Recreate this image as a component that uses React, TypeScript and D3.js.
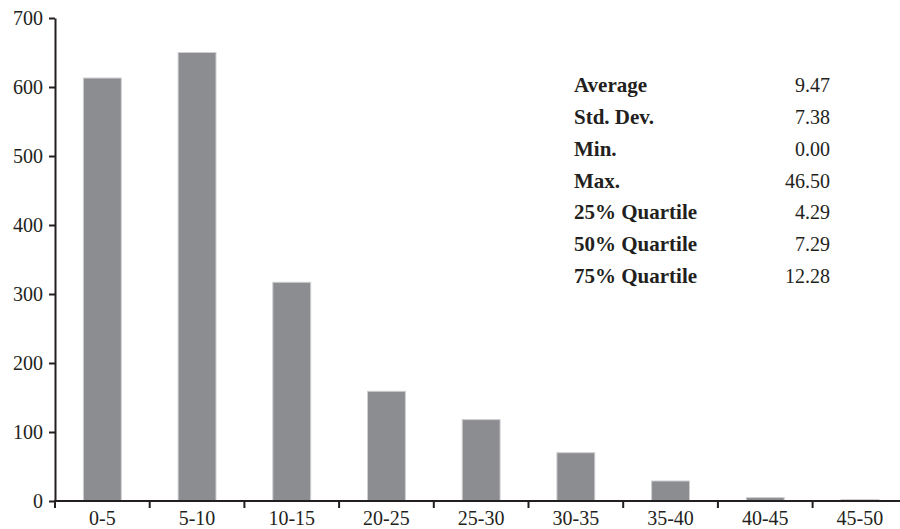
import React, { useEffect, useRef } from "react";
import * as d3 from "d3";

const bins = ["0-5", "5-10", "10-15", "20-25", "25-30", "30-35", "35-40", "40-45", "45-50"];
const counts = [613, 650, 317, 159, 118, 70, 29, 5, 2];
const yTicks = [0, 100, 200, 300, 400, 500, 600, 700];

const statNames = ["Average", "Std. Dev.", "Min.", "Max.", "25% Quartile", "50% Quartile", "75% Quartile"];
const statValues = ["9.47", "7.38", "0.00", "46.50", "4.29", "7.29", "12.28"];

const WIDTH = 900;
const HEIGHT = 529;
const FONT = "Liberation Serif, Times New Roman, serif";
const INK = "#231f20";

const App = () => {
  const svgRef = useRef<SVGSVGElement>(null);

  useEffect(() => {
    if (!svgRef.current) return;
    const svg = d3.select(svgRef.current);
    svg.selectAll("*").remove();

    const left = 55;
    const bottom = 501;
    const top = 18;

    const x = d3.scaleBand<string>().domain(bins).range([left, left + 94.7 * bins.length]).paddingInner(0.6).paddingOuter(0.3);
    const y = d3.scaleLinear().domain([0, 700]).range([bottom, top]);

    // bars
    svg.append("g")
      .selectAll("rect")
      .data(bins)
      .join("rect")
        .attr("x", d => x(d)!)
        .attr("width", x.bandwidth())
        .attr("y", (d, i) => y(counts[i]))
        .attr("height", (d, i) => bottom - y(counts[i]))
        .attr("fill", "#8c8d91")
        .attr("stroke", "#cfcfd1")
        .attr("stroke-width", 1);

    // y axis
    const yAxis = svg.append("g")
      .attr("transform", `translate(${left},0)`)
      .call(d3.axisLeft(y).tickValues(yTicks).tickSize(6).tickPadding(6).tickSizeOuter(0));
    yAxis.select(".domain").attr("stroke", INK).attr("stroke-width", 2);
    yAxis.selectAll(".tick line").attr("stroke", INK).attr("stroke-width", 2);
    yAxis.selectAll(".tick text")
      .attr("fill", INK)
      .attr("font-family", FONT)
      .attr("font-size", 20);

    // x axis: ticks at band edges
    const bandEdge = (i: number) => x.range()[0] + i * x.step();
    const xg = svg.append("g");
    xg.append("line")
      .attr("x1", left - 1).attr("x2", WIDTH)
      .attr("y1", bottom).attr("y2", bottom)
      .attr("stroke", INK).attr("stroke-width", 2);
    xg.selectAll("line.tick")
      .data(d3.range(bins.length))
      .join("line")
        .attr("class", "tick")
        .attr("x1", i => bandEdge(i)).attr("x2", i => bandEdge(i))
        .attr("y1", bottom).attr("y2", bottom + 7)
        .attr("stroke", INK).attr("stroke-width", 2);
    xg.selectAll("text")
      .data(bins)
      .join("text")
        .attr("x", d => x(d)! + x.bandwidth() / 2)
        .attr("y", 525)
        .attr("text-anchor", "middle")
        .attr("fill", INK)
        .attr("font-family", FONT)
        .attr("font-size", 20)
        .text(d => d);

    // stats table
    const rowY = d3.scalePoint<string>().domain(statNames).range([92, 283]);
    const stats = svg.append("g")
      .attr("fill", INK)
      .attr("font-family", FONT)
      .attr("font-size", 20);
    stats.selectAll("text.name")
      .data(statNames)
      .join("text")
        .attr("class", "name")
        .attr("x", 574)
        .attr("y", d => rowY(d)!)
        .attr("font-weight", "bold")
        .attr("font-size", 21)
        .text(d => d);
    stats.selectAll("text.value")
      .data(statNames)
      .join("text")
        .attr("class", "value")
        .attr("x", 830)
        .attr("y", d => rowY(d)!)
        .attr("text-anchor", "end")
        .text((d, i) => statValues[i]);
  }, []);

  return (
    <svg
      ref={svgRef}
      width={WIDTH}
      height={HEIGHT}
      style={{ position: "absolute", left: 0, top: 0, background: "#fff" }}
    />
  );
};

export default App;
